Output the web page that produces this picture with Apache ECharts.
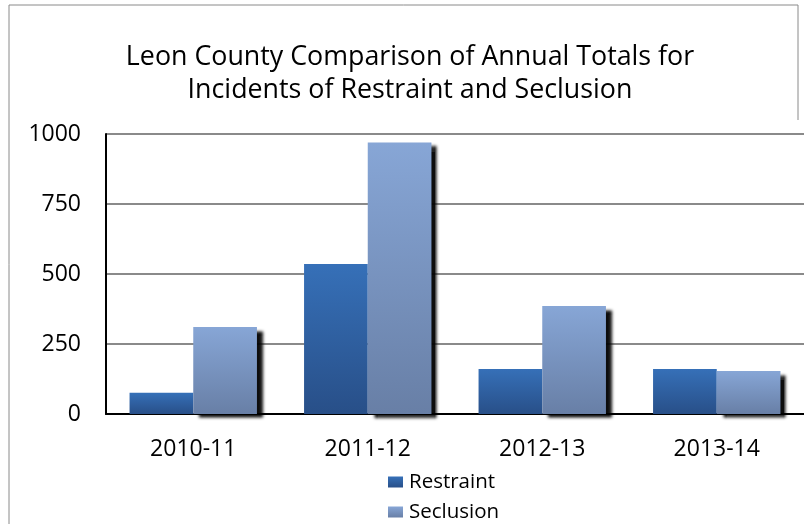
<!DOCTYPE html>
<html>
<head>
<meta charset="utf-8">
<script src="https://cdn.jsdelivr.net/npm/echarts@6/dist/echarts.min.js"></script>
<style>html,body{margin:0;padding:0;background:#fff}#c{width:804px;height:524px}</style>
</head>
<body>
<div id="c"></div>
<script>
const categories = ['2010-11', '2011-12', '2012-13', '2013-14'];
const restraint = [76, 536, 161, 161];
const seclusion = [311, 970, 386, 154];
const yTicks = [0, 250, 500, 750, 1000];

const FONT = 'Open Sans';
const chart = echarts.init(document.getElementById('c'));
const grad = (a, b) => new echarts.graphic.LinearGradient(0, 0, 0, 1, [{offset: 0, color: a}, {offset: 1, color: b}]);
chart.setOption({
  animation: false,
  backgroundColor: '#fff',
  title: {
    text: 'Leon County Comparison of Annual Totals for\nIncidents of Restraint and Seclusion',
    left: 405, top: 36, textAlign: 'center',
    textStyle: {fontFamily: FONT, fontWeight: 'normal', fontSize: 26.8, color: '#000', lineHeight: 33}
  },
  legend: {
    orient: 'vertical', left: 388, top: 471, padding: 0, itemWidth: 15, itemHeight: 11, itemGap: 8,
    textStyle: {fontFamily: FONT, fontSize: 20.5, lineHeight: 22, color: '#000', padding: [0, 0, 0, 1]},
    data: [{name: 'Restraint', icon: 'rect'}, {name: 'Seclusion', icon: 'rect'}]
  },
  graphic: [
    {type: 'line', shape: {x1: 9, y1: 5, x2: 798, y2: 5}, style: {stroke: '#8a8a8a', lineWidth: 1}},
    {type: 'line', shape: {x1: 9, y1: 5, x2: 9, y2: 524}, style: {stroke: '#8a8a8a', lineWidth: 1}},
    {type: 'line', shape: {x1: 798, y1: 5, x2: 798, y2: 120}, style: {stroke: '#8a8a8a', lineWidth: 1}}
  ],
  grid: {left: 106, top: 134, width: 712, height: 280, containLabel: false},
  xAxis: {
    type: 'category', data: categories,
    axisLine: {lineStyle: {color: '#000', width: 2}},
    axisTick: {show: false},
    axisLabel: {fontFamily: FONT, fontSize: 23, color: '#000', margin: 24}
  },
  yAxis: {
    type: 'value', min: 0, max: 1000, interval: 250,
    axisLine: {show: true, lineStyle: {color: '#000', width: 2}},
    axisTick: {show: false},
    axisLabel: {fontFamily: FONT, fontSize: 23, color: '#000', margin: 25,
      formatter: v => yTicks.includes(v) ? String(v) : ''},
    splitLine: {lineStyle: {color: '#8a8a8a', width: 2}}
  },
  series: [
    {name: 'Restraint', type: 'bar', data: restraint, barGap: '0%', barCategoryGap: '27%',
      itemStyle: {color: grad('#3670b8', '#284f88')}},
    {name: 'Seclusion', type: 'bar', data: seclusion,
      itemStyle: {color: grad('#87a6d6', '#687fa6'), shadowColor: 'rgba(0,0,0,0.95)', shadowBlur: 3, shadowOffsetX: 6, shadowOffsetY: 4}}
  ]
});
</script>
</body>
</html>
